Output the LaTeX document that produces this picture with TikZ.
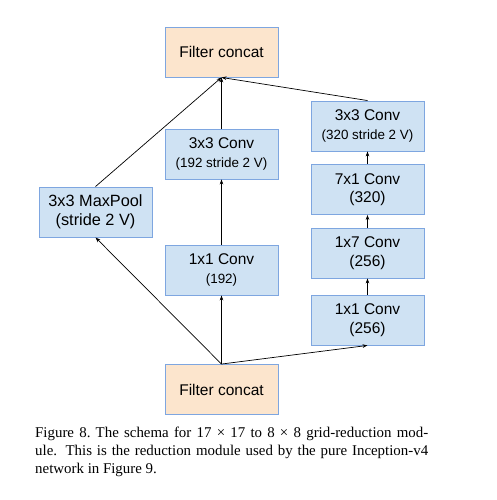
\documentclass[tikz,border=0pt]{standalone}
\usepackage{fontspec}
\setmainfont{Liberation Sans}
\newfontfamily\capfont{Liberation Serif}
\usetikzlibrary{arrows.meta}
\definecolor{bfill}{HTML}{CFE2F3}
\definecolor{bdraw}{HTML}{7EA6E0}
\definecolor{ofill}{HTML}{FCE5CD}
\newcommand{\subtxt}[1]{{\fontsize{13.4}{16}\selectfont #1}}
\begin{document}
\begin{tikzpicture}[x=1pt,y=-1pt,
  box/.style={draw=bdraw, line width=0.9pt, fill=bfill, minimum width=113pt,
    minimum height=50pt, inner sep=0pt, align=center,
    font=\fontsize{15.5}{18.5}\selectfont},
  concat/.style={box, fill=ofill},
  arr/.style={-{Stealth[length=5pt,width=3.6pt]}, line width=0.7pt},
  caption/.style={anchor=base west, inner sep=0pt, font=\capfont\fontsize{14.9}{18}\selectfont}]
\useasboundingbox (0,0) rectangle (496,500);

\node[concat] (top) at (221.5,52) {Filter concat};
\node[box] (c33) at (221.5,154) {3x3 Conv\\\subtxt{(192 stride 2 V)}};
\node[box] (c11) at (221.5,270) {1x1 Conv\\\subtxt{(192)}};
\node[box, font=\fontsize{16.3}{19}\selectfont] (mp) at (95.5,212) {3x3 MaxPool\\(stride 2 V)};
\node[box] (r4) at (367.5,126) {3x3 Conv\\\subtxt{(320 stride 2 V)}};
\node[box] (r3) at (367.5,189.5) {7x1 Conv\\(320)};
\node[box] (r2) at (367.5,253) {1x7 Conv\\(256)};
\node[box] (r1) at (367.5,320) {1x1 Conv\\(256)};
\node[concat] (bot) at (221.5,389.5) {Filter concat};

\draw[arr] (bot.north) -- (mp.south);
\draw[arr] (bot.north) -- (c11.south);
\draw[arr] (bot.north) -- (r1.south);
\draw[arr] (c11) -- (c33);
\draw[arr] (r1) -- (r2);
\draw[arr] (r2) -- (r3);
\draw[arr] (r3) -- (r4);
\draw[arr] (mp.north) -- (top.south);
\draw[arr] (c33.north) -- (top.south);
\draw[arr] (r4.north) -- (top.south);

\node[caption] (cap1) at (35,437) {\hbox to 393pt{Figure 8.\ The schema for 17 × 17 to 8 × 8 grid-reduction mod-}};
\node[caption] (cap2) at (35,455) {\hbox to 393pt{ule.  This is the reduction module used by the pure Inception-v4}};
\node[caption] (cap3) at (35,473) {network in Figure 9.};
\end{tikzpicture}
\end{document}
